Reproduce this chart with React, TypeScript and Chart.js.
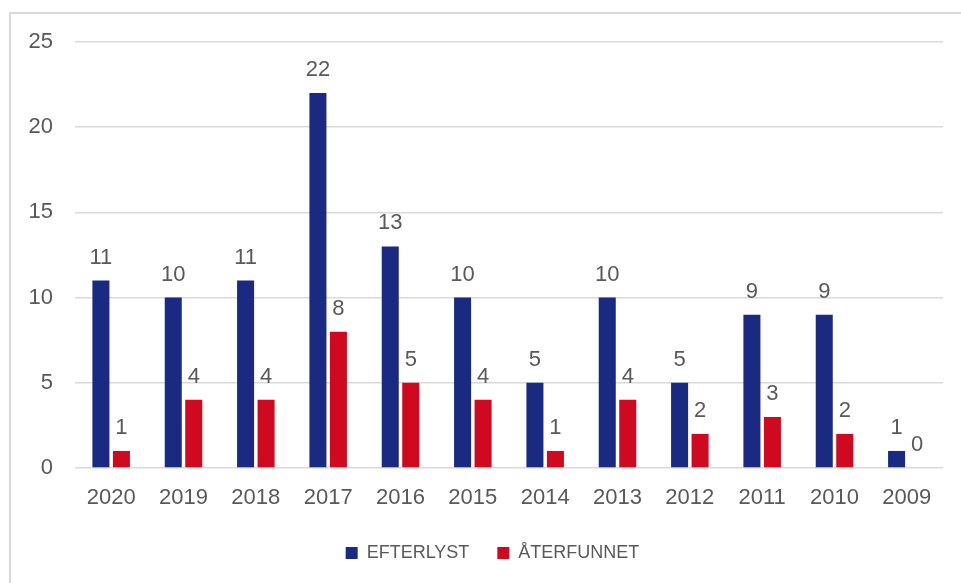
import React, { useEffect, useRef } from "react";
import { Chart, registerables } from "chart.js";

Chart.register(...registerables);

const categories = ["2020", "2019", "2018", "2017", "2016", "2015", "2014", "2013", "2012", "2011", "2010", "2009"];
const efterlyst = [11, 10, 11, 22, 13, 10, 5, 10, 5, 9, 9, 1];
const aterfunnet = [1, 4, 4, 8, 5, 4, 1, 4, 2, 3, 2, 0];
const seriesNames = ["EFTERLYST", "ÅTERFUNNET"];
const yTicks = [0, 5, 10, 15, 20, 25];

const FONT = "'Liberation Sans', Arial, sans-serif";
const TEXT = "#595959";

const dataLabels = {
  id: "dataLabels",
  afterDatasetsDraw(chart: any) {
    const ctx = chart.ctx;
    ctx.save();
    ctx.font = `22px ${FONT}`;
    ctx.fillStyle = TEXT;
    ctx.textAlign = "center";
    ctx.textBaseline = "alphabetic";
    chart.data.datasets.forEach((ds: any, i: number) => {
      const meta = chart.getDatasetMeta(i);
      meta.data.forEach((el: any, j: number) => {
        ctx.fillText(String(ds.data[j]), el.x, el.y - 17);
      });
    });
    ctx.restore();
  },
};

const shiftLegend = {
  id: "shiftLegend",
  afterLayout(chart: any) {
    const lg = chart.legend;
    if (lg) {
      lg.left += 21;
      lg.right += 21;
    }
  },
};

export default function App() {
  const ref = useRef<HTMLCanvasElement>(null);
  useEffect(() => {
    if (!ref.current) return;
    const chart = new Chart(ref.current, {
      type: "bar",
      data: {
        labels: categories,
        datasets: [
          { label: seriesNames[0], data: efterlyst, backgroundColor: "#1a2982", categoryPercentage: 0.567, barPercentage: 0.83 },
          { label: seriesNames[1], data: aterfunnet, backgroundColor: "#cf0a20", categoryPercentage: 0.567, barPercentage: 0.83 },
        ],
      },
      options: {
        animation: false,
        responsive: false,
        layout: { padding: { top: 42, right: 18, bottom: 11, left: 0 } },
        plugins: {
          legend: {
            position: "bottom",
            labels: {
              font: { family: FONT, size: 18 },
              color: TEXT,
              boxWidth: 12,
              boxHeight: 12,
              padding: 28,
            },
          },
          tooltip: { enabled: false },
        },
        scales: {
          x: {
            grid: { display: false, drawTicks: false },
            border: { display: false },
            ticks: { font: { family: FONT, size: 22 }, color: TEXT, padding: 17 },
            afterFit: (s: any) => { s.height = 48; },
          },
          y: {
            min: 0,
            max: 25,
            afterBuildTicks: (s: any) => { s.ticks = yTicks.map((v) => ({ value: v })); },
            grid: { color: "#d9d9d9", lineWidth: 1.5, drawTicks: false },
            border: { display: false },
            ticks: { font: { family: FONT, size: 22 }, color: TEXT, padding: 22 },
            afterFit: (s: any) => { s.width = 75; },
          },
        },
      },
      plugins: [dataLabels, shiftLegend],
    });
    return () => chart.destroy();
  }, []);
  return (
    <div style={{ position: "fixed", left: 0, top: 0, width: 961, height: 583, background: "#fff", overflow: "hidden" }}>
      <div style={{ position: "absolute", left: 9, top: 12, width: 960, height: 580, borderTop: "2px solid #d9d9d9", borderLeft: "2px solid #d9d9d9" }} />
      <canvas ref={ref} width={961} height={583} style={{ position: "absolute", left: 0, top: 0 }} />
    </div>
  );
}
